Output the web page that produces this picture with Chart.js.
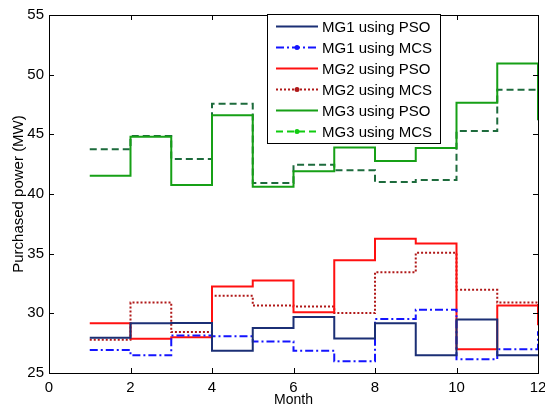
<!DOCTYPE html>
<html lang="en">
  <head>
    <meta charset="UTF-8" />
    <title>Purchased power</title>
    <script src="https://cdn.jsdelivr.net/npm/chart.js"></script>
    <style>
      body { margin: 0; background: #fff; }
      canvas { display: block; }
    </style>
  </head>
  <body>
    <canvas id="myChart" width="545" height="410"></canvas>
    <script>
      // months on the x axis
      const months = [1, 2, 3, 4, 5, 6, 7, 8, 9, 10, 11, 12];

      // purchased power (MW)
      const mg1Pso = [27.96, 29.16, 29.2, 26.87, 28.77, 29.69, 27.9, 29.16, 26.48, 29.49, 26.48, 26.45];
      const mg1Mcs = [26.93, 26.48, 28.15, 28.07, 27.65, 26.87, 25.98, 29.52, 30.3, 26.15, 27.0, 28.5];
      const mg2Pso = [29.16, 27.87, 28.0, 32.25, 32.75, 30.1, 34.45, 36.24, 35.85, 27.0, 30.66, 29.0];
      const mg2Mcs = [27.79, 30.91, 28.43, 31.47, 30.66, 30.58, 30.02, 33.45, 35.07, 31.97, 30.91, 29.5];
      const mg3Pso = [41.53, 44.8, 40.75, 46.6, 40.6, 41.9, 43.9, 42.76, 43.85, 47.64, 50.93, 46.2];
      const mg3Mcs = [43.76, 44.85, 42.93, 47.56, 40.92, 42.45, 41.98, 41.0, 41.17, 45.27, 48.73, 46.0];

      const labels = ["MG1 using PSO", "MG1 using MCS", "MG2 using PSO", "MG2 using MCS", "MG3 using PSO", "MG3 using MCS"];

      const FONT = "'Liberation Sans', Arial, sans-serif";

      function pts(vals) {
        return months.map((m, i) => ({ x: m, y: vals[i] }));
      }

      function serie(label, vals, color, dash, legendColor, dot) {
        return {
          label: label,
          data: pts(vals),
          borderColor: color,
          borderWidth: 2,
          borderDash: dash,
          stepped: "before",
          pointRadius: 0,
          fill: false,
          legendColor: legendColor || color,
          legendDot: dot,
        };
      }

      // legend box drawn inside the axes, like the matlab one
      const boxLegend = {
        id: "boxLegend",
        afterDraw(chart) {
          const ctx = chart.ctx;
          const x0 = 267, y0 = 14, w = 173, h = 129;
          ctx.save();
          ctx.fillStyle = "#fff";
          ctx.fillRect(x0, y0, w, h);
          ctx.strokeStyle = "#000";
          ctx.lineWidth = 1;
          ctx.strokeRect(x0 + 0.5, y0 + 0.5, w, h);
          ctx.font = "15px " + FONT;
          ctx.textBaseline = "middle";
          chart.data.datasets.forEach((ds, i) => {
            const y = 26.5 + i * 21;
            ctx.strokeStyle = ds.legendColor;
            ctx.lineWidth = 2;
            ctx.setLineDash(ds.borderDash || []);
            ctx.beginPath();
            ctx.moveTo(276, y);
            ctx.lineTo(318, y);
            ctx.stroke();
            ctx.setLineDash([]);
            if (ds.legendDot) {
              ctx.fillStyle = ds.legendColor;
              ctx.beginPath();
              ctx.arc(297, y, 2.5, 0, Math.PI * 2);
              ctx.fill();
            }
            ctx.fillStyle = "#000";
            ctx.fillText(ds.label, 322, y + 1);
          });
          ctx.restore();
        },
      };

      // box around the axes and inward ticks on all four sides
      const frame = {
        id: "frame",
        afterDatasetsDraw(chart) {
          const { ctx, chartArea: a, scales } = chart;
          ctx.save();
          ctx.strokeStyle = "#000";
          ctx.lineWidth = 1;
          ctx.beginPath();
          scales.x.ticks.forEach((t) => {
            const px = Math.round(scales.x.getPixelForValue(t.value)) + 0.5;
            ctx.moveTo(px, a.bottom);
            ctx.lineTo(px, a.bottom - 5);
            ctx.moveTo(px, a.top);
            ctx.lineTo(px, a.top + 5);
          });
          scales.y.ticks.forEach((t) => {
            const py = Math.round(scales.y.getPixelForValue(t.value)) + 0.5;
            ctx.moveTo(a.left, py);
            ctx.lineTo(a.left + 5, py);
            ctx.moveTo(a.right, py);
            ctx.lineTo(a.right - 5, py);
          });
          ctx.stroke();
          ctx.strokeRect(Math.round(a.left) + 0.5, Math.round(a.top) + 0.5,
            Math.round(a.right - a.left), Math.round(a.bottom - a.top));
          ctx.restore();
        },
      };

      const ctx1 = document.getElementById("myChart").getContext("2d");

      new Chart(ctx1, {
        type: "line",
        data: {
          datasets: [
            serie(labels[0], mg1Pso, "#1b2f75", []),
            serie(labels[1], mg1Mcs, "#1414ff", [8, 3, 2, 3], "#1414ff", true),
            serie(labels[2], mg2Pso, "#ff1010", []),
            serie(labels[3], mg2Mcs, "#b01818", [2, 2], "#b01818", true),
            serie(labels[4], mg3Pso, "#16a016", []),
            serie(labels[5], mg3Mcs, "#1d6b3c", [7, 4], "#10cc10", true),
          ],
        },
        options: {
          responsive: false,
          animation: false,
          layout: { padding: { top: 15, right: 7, left: 0, bottom: 0 } },
          plugins: {
            legend: { display: false },
            tooltip: { enabled: false },
          },
          scales: {
            x: {
              type: "linear",
              min: 0,
              max: 12,
              ticks: {
                stepSize: 2,
                color: "#000",
                padding: 6,
                maxRotation: 0,
                font: { family: FONT, size: 15 },
              },
              grid: { display: false, drawTicks: false },
              border: { display: false },
              title: {
                display: true,
                text: "Month",
                color: "#000",
                padding: { top: 0, bottom: 1 },
                font: { family: FONT, size: 14 },
              },
              afterFit(scale) {
                scale.height = 37;
                scale.paddingLeft = 0;
                scale.paddingRight = 0;
              },
            },
            y: {
              min: 25,
              max: 55,
              ticks: {
                stepSize: 5,
                color: "#000",
                padding: 5,
                font: { family: FONT, size: 15 },
              },
              grid: { display: false, drawTicks: false },
              border: { display: false },
              title: {
                display: true,
                text: "Purchased power (MW)",
                color: "#000",
                padding: { top: 10, bottom: 0 },
                font: { family: FONT, size: 15 },
              },
              afterFit(scale) {
                scale.width = 49;
                scale.paddingTop = 0;
                scale.paddingBottom = 0;
              },
            },
          },
        },
        plugins: [frame, boxLegend],
      });
    </script>
  </body>
</html>
